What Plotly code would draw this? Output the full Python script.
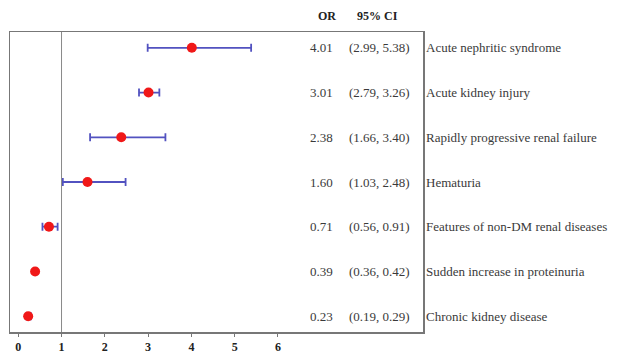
import plotly.graph_objects as go

labels = ["Acute nephritic syndrome", "Acute kidney injury", "Rapidly progressive renal failure",
          "Hematuria", "Features of non-DM renal diseases", "Sudden increase in proteinuria",
          "Chronic kidney disease"]
odds = [4.01, 3.01, 2.38, 1.60, 0.71, 0.39, 0.23]
ci_low = [2.99, 2.79, 1.66, 1.03, 0.56, 0.36, 0.19]
ci_high = [5.38, 3.26, 3.40, 2.48, 0.91, 0.42, 0.29]
x_ticks = [0, 1, 2, 3, 4, 5, 6]

n = len(labels)
rows = [n - i for i in range(n)]

serif = "Liberation Serif, Times New Roman, serif"
txt_col = "#3a3a3a"

fig = go.Figure()
fig.add_trace(go.Scatter(
    x=odds, y=rows, mode="markers",
    marker=dict(color="#f01818", size=10, line=dict(width=0)),
    error_x=dict(type="data", symmetric=False,
                 array=[h - o for h, o in zip(ci_high, odds)],
                 arrayminus=[o - l for o, l in zip(odds, ci_low)],
                 color="#5252c0", thickness=1.8, width=4),
    showlegend=False, hoverinfo="skip",
))

fig.add_vline(x=1, line=dict(color="#8a8a8a", width=1))

annotations = []
for r, o, l, h, lab in zip(rows, odds, ci_low, ci_high, labels):
    annotations.append(dict(x=7.31, y=r, xref="x", yref="y", text=f"{o:.2f}",
                            xanchor="right", yanchor="middle", showarrow=False,
                            font=dict(family=serif, size=13, color=txt_col)))
    annotations.append(dict(x=9.1, y=r, xref="x", yref="y", text=f"({l:.2f}, {h:.2f})",
                            xanchor="right", yanchor="middle", showarrow=False,
                            font=dict(family=serif, size=13, color=txt_col)))
    annotations.append(dict(x=1.0, y=r, xref="paper", yref="y", text=lab,
                            xanchor="left", yanchor="middle", showarrow=False, xshift=1,
                            font=dict(family=serif, size=13, color=txt_col)))
annotations.append(dict(x=7.13, y=1.0, xref="x", yref="paper", text="<b>OR</b>", yshift=16,
                        xanchor="center", yanchor="middle", showarrow=False,
                        font=dict(family=serif, size=12, color="#222")))
annotations.append(dict(x=8.3, y=1.0, xref="x", yref="paper", text="<b>95% CI</b>", yshift=16,
                        xanchor="center", yanchor="middle", showarrow=False,
                        font=dict(family=serif, size=12, color="#222")))

fig.update_layout(
    width=619, height=355,
    margin=dict(l=10, r=196, t=32, b=23),
    paper_bgcolor="white", plot_bgcolor="white",
    annotations=annotations,
    xaxis=dict(range=[-0.19, 9.35], tickvals=x_ticks,
               ticktext=[f"<b>{t}</b>" for t in x_ticks],
               ticks="outside", ticklen=3, tickcolor="#777", showgrid=False, zeroline=False,
               showline=True, mirror=True, linecolor="#777", linewidth=1.5, automargin=False,
               ticklabelstandoff=0,
               tickfont=dict(family=serif, size=12, color="#222")),
    yaxis=dict(range=[0.646, n + 0.354], showticklabels=False, ticks="", showgrid=False,
               zeroline=False, showline=True, mirror=True, linecolor="#777", linewidth=1.5),
)

fig.write_html("out.html", config={"displayModeBar": False, "staticPlot": True},
               post_script="document.body.style.margin='0';document.body.style.overflow='hidden';")
